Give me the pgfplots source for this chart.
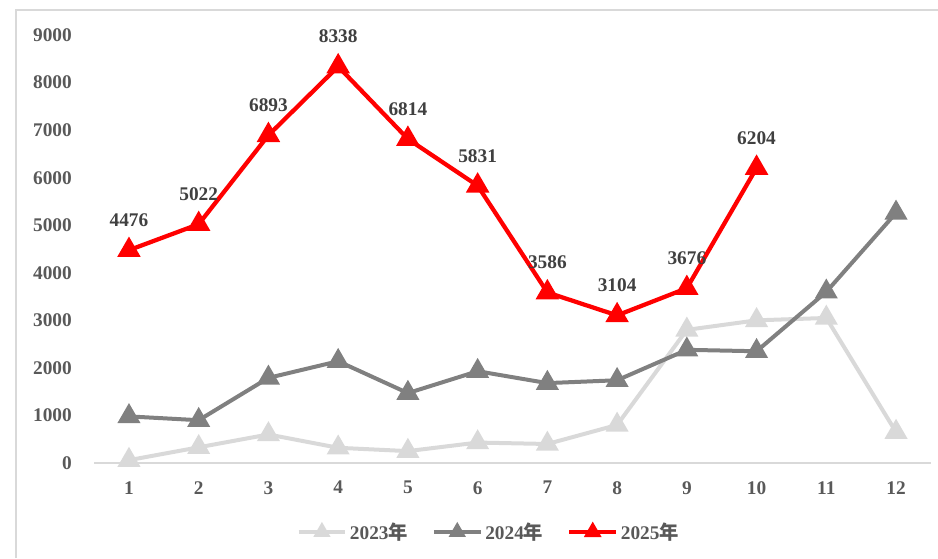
\documentclass[border=0pt]{standalone}
\usepackage{pgfplots}
\pgfplotsset{compat=1.18}
\usepackage{fontspec}
\setmainfont{Liberation Serif}
\newfontfamily\cjk{Noto Sans CJK SC}
\definecolor{cA}{HTML}{D9D9D9}
\definecolor{cB}{HTML}{808080}
\definecolor{cC}{HTML}{FF0000}
\definecolor{txt}{HTML}{595959}
\definecolor{lab}{HTML}{404040}
\definecolor{frm}{HTML}{D9D9D9}
\begin{document}
\begin{tikzpicture}[x=0.75pt,y=0.75pt]
\useasboundingbox (0,0) rectangle (938,558);
\draw[frm, line width=1.5pt] (16,0) -- (16,548) -- (938,548);
\begin{axis}[
  at={(70.575pt,71.25pt)}, anchor=south west,
  scale only axis, width=627.6pt, height=321pt,
  xmin=0.5, xmax=12.5, ymin=0, ymax=9000,
  xtick={1,...,12}, ytick={0,1000,...,9000},
  separate axis lines,
  axis x line*=bottom, axis y line*=left,
  y axis line style={draw=none},
  x axis line style={draw=cA, line width=1.5pt, -},
  major tick length=0pt, tick style={draw=none},
  font=\fontsize{14.5}{17}\selectfont\bfseries,
  /pgf/number format/assume math mode=true,
  /pgf/number format/1000 sep={},
  ticklabel style={text=txt, font=\fontsize{14.5}{17}\selectfont\bfseries},
  yticklabel style={inner sep=0pt, xshift=-16.5pt},
  xticklabel style={inner sep=0pt, yshift=-13.5pt},
  clip=false,
  legend columns=3,
  legend style={at={(0.472,-0.161)}, anchor=center, draw=none, fill=none,
    text=txt, font=\fontsize{14.5}{17}\selectfont\bfseries,
    /tikz/every even column/.append style={column sep=16pt},
    inner sep=0pt},
  legend image code/.code={
    \draw[#1, mark size=4.5pt, mark repeat=2, mark phase=2] plot coordinates {(0pt,0pt) (17.5pt,0pt) (35pt,0pt)};
  },
]
\addplot[cA, line width=3pt, mark=triangle*, mark size=7pt, mark options={solid}] coordinates {
(1,60) (2,330) (3,600) (4,320) (5,250) (6,430) (7,400) (8,800) (9,2800) (10,3000) (11,3050) (12,650)};
\addlegendentry{2023{\cjk 年}}
\addplot[cB, line width=3pt, mark=triangle*, mark size=7pt, mark options={solid}] coordinates {
(1,980) (2,900) (3,1790) (4,2140) (5,1470) (6,1930) (7,1680) (8,1740) (9,2380) (10,2350) (11,3600) (12,5260)};
\addlegendentry{2024{\cjk 年}}
\addplot[cC, line width=3.2pt, mark=triangle*, mark size=7pt, mark options={solid},
  nodes near coords, every node near coord/.append style={text=lab, inner sep=0pt, yshift=16pt, font=\fontsize{14.5}{17}\selectfont\bfseries, /pgf/number format/1000 sep={}}] coordinates {
(1,4476) (2,5022) (3,6893) (4,8338) (5,6814) (6,5831) (7,3586) (8,3104) (9,3676) (10,6204)};
\addlegendentry{2025{\cjk 年}}
\end{axis}
\end{tikzpicture}
\end{document}
